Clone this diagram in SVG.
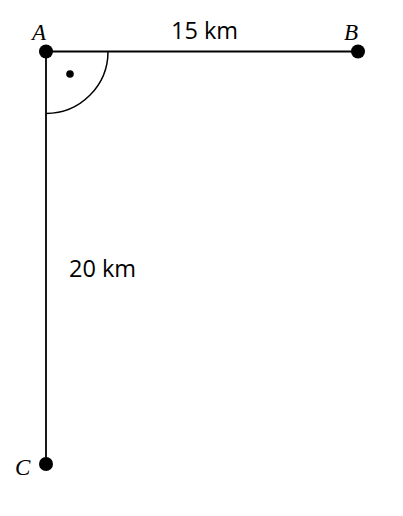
<svg xmlns="http://www.w3.org/2000/svg" width="403" height="516" viewBox="0 0 403 516">
<style>
.seg{stroke:#000;stroke-width:1.8;fill:none}
.arc{stroke:#000;stroke-width:1.5;fill:none}
.pt{fill:#000}
.lbl{font-family:"Liberation Serif",serif;font-style:italic;font-size:23px;fill:#000}
.dist{font-family:"Open Sans","Liberation Sans",sans-serif;font-size:23.5px;fill:#000}
</style>
<rect width="403" height="516" fill="#fff"/>
<g id="connectors">
<line class="seg" x1="46" y1="51.5" x2="358" y2="51.5"/>
<line class="seg" x1="46" y1="51.5" x2="46" y2="464"/>
<path class="arc" d="M108 51.5 A62 62 0 0 1 46 113.5"/>
<circle class="pt" cx="70" cy="74" r="3.8"/>
<text class="dist" x="171" y="39">15 km</text>
<text class="dist" x="69" y="277">20 km</text>
</g>
<g id="A">
<circle class="pt" cx="46" cy="51.5" r="7"/>
<text class="lbl" x="32" y="40">A</text>
</g>
<g id="B">
<circle class="pt" cx="358" cy="51.5" r="7"/>
<text class="lbl" x="344" y="40">B</text>
</g>
<g id="C">
<circle class="pt" cx="46" cy="464" r="7"/>
<text class="lbl" x="15" y="475">C</text>
</g>
</svg>
